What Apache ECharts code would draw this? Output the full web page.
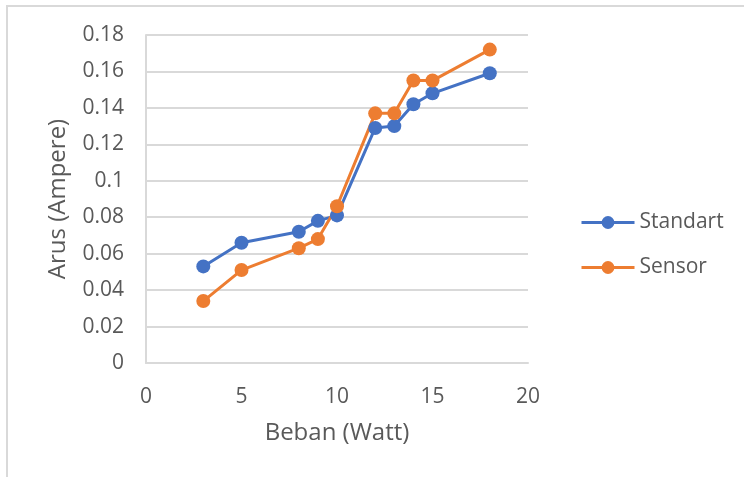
<!DOCTYPE html>
<html>
<head>
<meta charset="utf-8">
<script src="https://cdn.jsdelivr.net/npm/echarts@6/dist/echarts.min.js"></script>
<style>
  html, body { margin: 0; padding: 0; background: #fff; }
  #chart { width: 744px; height: 477px; }
</style>
</head>
<body>
<div id="chart"></div>
<script>
// Load (Watt) against measured current (Ampere)
const beban = [3, 5, 8, 9, 10, 12, 13, 14, 15, 18];
const standart = [0.053, 0.066, 0.072, 0.078, 0.081, 0.129, 0.130, 0.142, 0.148, 0.159];
const sensor = [0.034, 0.051, 0.063, 0.068, 0.086, 0.137, 0.137, 0.155, 0.155, 0.172];
const seriesNames = ['Standart', 'Sensor'];

const textColor = '#595959';
const gridColor = '#d9d9d9';
const font = 'Open Sans';

const pairs = (xs, ys) => xs.map((x, i) => [x, ys[i]]);

const chart = echarts.init(document.getElementById('chart'), null, { renderer: 'canvas' });
chart.setOption({
  backgroundColor: '#ffffff',
  animation: false,
  graphic: [{
    type: 'rect',
    shape: { x: 7, y: 6, width: 800, height: 600 },
    style: { fill: 'none', stroke: gridColor, lineWidth: 2 },
    silent: true
  }],
  grid: { left: 146, right: 216, top: 35, bottom: 114, containLabel: false },
  legend: {
    orient: 'vertical',
    left: 575,
    top: 207,
    itemWidth: 53,
    itemHeight: 16,
    itemGap: 24,
    lineStyle: { width: 3 },
    textStyle: { color: textColor, fontFamily: font, fontSize: 21, lineHeight: 21, padding: [0, 0, 0, 0] },
    data: seriesNames
  },
  xAxis: {
    type: 'value',
    min: 0,
    max: 20,
    interval: 5,
    name: 'Beban (Watt)',
    nameLocation: 'middle',
    nameGap: 58,
    nameTextStyle: { color: textColor, fontFamily: font, fontSize: 24 },
    axisLine: { show: true, lineStyle: { color: gridColor, width: 2 } },
    axisTick: { show: false },
    splitLine: { show: false },
    axisLabel: { color: textColor, fontFamily: font, fontSize: 21, margin: 24 }
  },
  yAxis: {
    type: 'value',
    min: 0,
    max: 0.18,
    interval: 0.02,
    name: 'Arus (Ampere)',
    nameLocation: 'middle',
    nameRotate: 90,
    nameGap: 76,
    nameTextStyle: { color: textColor, fontFamily: font, fontSize: 24 },
    axisLine: { show: true, lineStyle: { color: gridColor, width: 2 } },
    axisTick: { show: false },
    splitLine: { show: true, lineStyle: { color: gridColor, width: 2 } },
    axisLabel: {
      color: textColor, fontFamily: font, fontSize: 21, margin: 22,
      formatter: v => String(Math.round(v * 100) / 100)
    }
  },
  series: [
    {
      name: seriesNames[0],
      type: 'line',
      data: pairs(beban, standart),
      symbol: 'circle',
      symbolSize: 14,
      lineStyle: { color: '#4472C4', width: 3 },
      itemStyle: { color: '#4472C4' }
    },
    {
      name: seriesNames[1],
      type: 'line',
      data: pairs(beban, sensor),
      symbol: 'circle',
      symbolSize: 14,
      lineStyle: { color: '#ED7D31', width: 3 },
      itemStyle: { color: '#ED7D31' }
    }
  ]
});
</script>
</body>
</html>
